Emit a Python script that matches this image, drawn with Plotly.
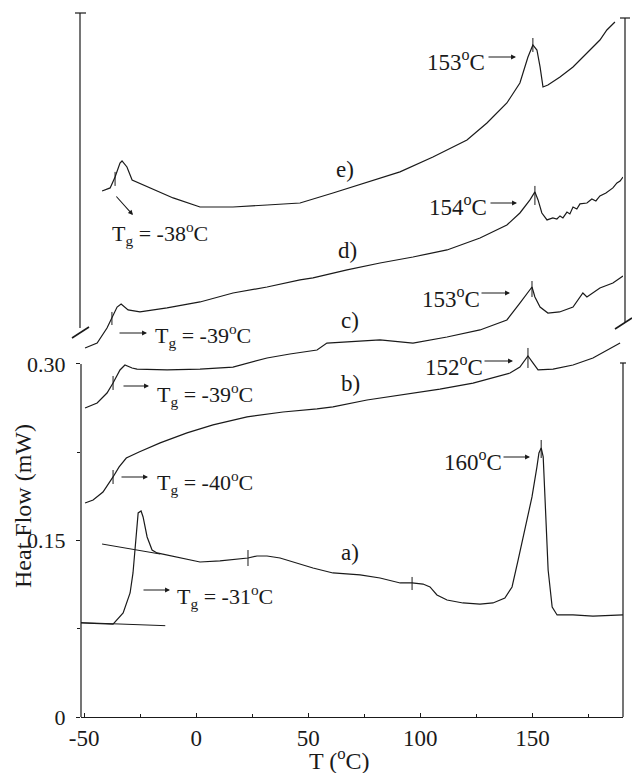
import plotly.graph_objects as go

# ---------------- data (T in degC, heat flow in mW) ----------------
a_T = [-51.4, -42.9, -37.1, -32.6, -29.5, -28.2, -27.3, -26.4, -25.9, -24.6, -23.7, -21.9, -19.7, -17.5,
       -7.2, 1.7, 10.6, 19.5, 23.1, 27.1, 31.6, 37.4, 45.0, 52.1, 61.0, 73.1, 82.0, 91.0, 96.3, 101.2,
       104.3, 107.4, 111.9, 119.0, 126.6, 132.4, 137.7, 140.9, 143.6, 146.7, 149.8, 152.0, 152.9, 153.9,
       154.8, 155.7, 157.0, 158.8, 161.0, 168.1, 177.0, 190.4]
a_Q = [0.0799, 0.0795, 0.0790, 0.0884, 0.1054, 0.1224, 0.1445, 0.1615, 0.1734, 0.1751, 0.1700, 0.1530,
       0.1419, 0.1394, 0.1351, 0.1317, 0.1326, 0.1343, 0.1351, 0.1368, 0.1368, 0.1351, 0.1309, 0.1266,
       0.1224, 0.1207, 0.1181, 0.1139, 0.1139, 0.1130, 0.1105, 0.1037, 0.0994, 0.0969, 0.0960, 0.0969,
       0.1011, 0.1105, 0.1334, 0.1589, 0.1870, 0.2125, 0.2244, 0.2286, 0.2210, 0.1819, 0.1249, 0.0935,
       0.0867, 0.0867, 0.0858, 0.0867]

b_T = [-49.6, -46.0, -41.6, -38.4, -37.1, -34.4, -31.2, -25.5, -16.1, -4.1, 7.5, 22.7, 38.7, 53.9, 61.0,
       76.2, 90.9, 108.7, 123.5, 132.4, 140.0, 144.4, 146.2, 148.0, 150.3, 152.5, 159.2, 168.1, 177.0, 189.1]
b_Q = [0.1819, 0.1844, 0.1912, 0.1997, 0.2040, 0.2125, 0.2201, 0.2252, 0.2329, 0.2414, 0.2482, 0.2550,
       0.2592, 0.2618, 0.2635, 0.2694, 0.2736, 0.2787, 0.2838, 0.2881, 0.2923, 0.2974, 0.3025, 0.3068,
       0.3008, 0.2949, 0.2957, 0.2991, 0.3051, 0.3178]

c_T = [-49.6, -44.2, -39.8, -37.1, -34.0, -31.8, -28.6, -26.4, -13.0, 1.7, 16.4, 31.6, 41.8, 53.9, 58.3,
       67.3, 82.0, 96.7, 111.9, 126.6, 138.6, 144.4, 147.6, 149.8, 151.1, 153.4, 156.9, 162.1, 168.1,
       172.5, 174.3, 180.1, 185.9, 190.4]
c_Q = [0.2626, 0.2668, 0.2753, 0.2838, 0.2949, 0.2991, 0.2966, 0.2957, 0.2949, 0.2957, 0.2974, 0.3051,
       0.3085, 0.3119, 0.3178, 0.3187, 0.3204, 0.3178, 0.3229, 0.3289, 0.3374, 0.3518, 0.3603, 0.3654,
       0.3569, 0.3484, 0.3433, 0.3442, 0.3484, 0.3603, 0.3569, 0.3646, 0.3688, 0.3748]

d_T = [-49.6, -44.2, -39.8, -37.6, -35.3, -33.5, -30.4, -25.1, -13.0, 1.7, 16.4, 31.6, 46.3, 52.1, 67.3,
       82.0, 96.7, 111.9, 126.6, 138.6, 144.4, 148.9, 151.1, 152.5, 154.2, 156.5, 159.1, 160.9, 162.3,
       163.6, 165.4, 166.7, 168.1, 169.8, 171.2, 174.3, 176.5, 178.3, 180.1, 182.8, 184.6, 185.9, 187.7,
       189.1, 190.4]
d_Q = [0.3136, 0.3178, 0.3306, 0.3399, 0.3484, 0.3510, 0.3459, 0.3442, 0.3476, 0.3527, 0.3603, 0.3654,
       0.3714, 0.3731, 0.3799, 0.3858, 0.3909, 0.3969, 0.4071, 0.4181, 0.4283, 0.4394, 0.4462, 0.4394,
       0.4283, 0.4224, 0.4241, 0.4232, 0.4258, 0.4241, 0.4291, 0.4275, 0.4334, 0.4317, 0.4360, 0.4368,
       0.4402, 0.4385, 0.4428, 0.4453, 0.4479, 0.4496, 0.4538, 0.4555, 0.4589]

e_T = [-42.0, -38.4, -36.2, -34.0, -33.1, -30.9, -28.6, -20.6, -10.3, 1.7, 16.4, 31.6, 46.3, 61.0, 76.2,
       90.9, 105.6, 120.8, 129.7, 138.6, 144.4, 148.0, 150.2, 152.0, 153.4, 154.7, 156.9, 162.3, 168.1,
       174.3, 180.1, 183.2, 186.8]
e_Q = [0.4470, 0.4496, 0.4589, 0.4708, 0.4725, 0.4674, 0.4564, 0.4496, 0.4411, 0.4334, 0.4334, 0.4351,
       0.4368, 0.4453, 0.4547, 0.4632, 0.4759, 0.4904, 0.5048, 0.5218, 0.5388, 0.5609, 0.5711, 0.5668,
       0.5524, 0.5354, 0.5371, 0.5439, 0.5524, 0.5643, 0.5753, 0.5838, 0.5906]

# tangent (baseline) construction lines on curve a
tan1_T = [-51.4, -13.8]
tan1_Q = [0.0802, 0.0776]
tan2_T = [-42.0, -16.1]
tan2_Q = [0.1470, 0.1385]

# short vertical marker ticks on curves
mark_T = [-36.2, 150.2, -37.6, 151.1, -37.1, 149.8, -37.1, 148.0, 23.1, 96.3, 153.9]
mark_lo = [0.4513, 0.5651, 0.3331, 0.4351, 0.2779, 0.3569, 0.1980, 0.2966, 0.1283, 0.1079, 0.2201]
mark_hi = [0.4632, 0.5770, 0.3442, 0.4513, 0.2898, 0.3705, 0.2099, 0.3136, 0.1419, 0.1190, 0.2354]

x_tickvals = [-50, 0, 50, 100, 150]
x_ticktext = ["-50", "0", "50", "100", "150"]
x_minor = [-25, 25, 75, 125, 175]
y_tickvals = [0, 0.15, 0.30]
y_ticktext = ["0", "0.15", "0.30"]
y_minor = [0.075, 0.225]

# ---------------- layout helpers ----------------
W, H = 632, 773
L, R, TOP, B = 81, 9, 0, 56
PW = W - L - R
PH = H - TOP - B


def px(x):
    return (x - L) / PW


def py(y):
    return (H - B - y) / PH


FONT = "Liberation Serif, Times New Roman, serif"
INK = "#1a1a1a"

fig = go.Figure()
for T, Q in [(a_T, a_Q), (b_T, b_Q), (c_T, c_Q), (d_T, d_Q), (e_T, e_Q)]:
    fig.add_trace(go.Scatter(x=T, y=Q, mode="lines", line=dict(color=INK, width=1.2),
                             hoverinfo="skip", showlegend=False))
for T, Q in [(tan1_T, tan1_Q), (tan2_T, tan2_Q)]:
    fig.add_trace(go.Scatter(x=T, y=Q, mode="lines", line=dict(color=INK, width=1.0),
                             hoverinfo="skip", showlegend=False))
mx, my = [], []
for t, lo, hi in zip(mark_T, mark_lo, mark_hi):
    mx += [t, t, None]
    my += [lo, hi, None]
fig.add_trace(go.Scatter(x=mx, y=my, mode="lines", line=dict(color=INK, width=1.0),
                         hoverinfo="skip", showlegend=False))

# axis frame pieces (with the scale break)
shapes = []


def seg(x0, y0, x1, y1, w=1.2):
    shapes.append(dict(type="line", xref="paper", yref="paper", x0=px(x0), y0=py(y0),
                       x1=px(x1), y1=py(y1), line=dict(color=INK, width=w)))


seg(81, 364, 81, 717)          # lower left spine
seg(623, 363, 623, 717)        # lower right spine
seg(620, 363, 626, 363)
seg(80, 13, 80, 328)           # upper left bracket
seg(75, 13, 86, 13)
seg(72, 338, 89, 327, 1.6)
seg(625, 18, 625, 323)         # upper right bracket
seg(620, 18, 630, 18)
seg(615, 329, 632, 318, 1.6)

ann = []


def text(x, y, s, size=23, anchor="left"):
    ann.append(dict(x=px(x), y=py(y), xref="paper", yref="paper", xanchor=anchor, yanchor="middle",
                    text=s, showarrow=False, font=dict(family=FONT, size=size, color=INK)))


def arrow(x0, y0, x1, y1):
    ann.append(dict(x=px(x1), y=py(y1), xref="paper", yref="paper", ax=x0 - x1, ay=y0 - y1,
                    text="", showarrow=True, arrowhead=2, arrowsize=0.9, arrowwidth=1.1,
                    arrowcolor=INK))


deg = "<sup>o</sup>C"
text(425, 60, "153" + deg)
arrow(487, 57, 516, 57)
text(427, 205, "154" + deg)
arrow(489, 203, 517, 203)
text(420, 297, "153" + deg)
arrow(480, 293, 510, 293)
text(423, 365, "152" + deg)
arrow(483, 361, 513, 361)
text(442, 460, "160" + deg)
arrow(502, 457, 530, 457)

text(345, 170, "e)", anchor="center")
text(347, 250, "d)", anchor="center")
text(350, 320, "c)", anchor="center")
text(350, 383, "b)", anchor="center")
text(350, 552, "a)", anchor="center")

tg = "T<sub>g</sub> = "
text(110, 234, tg + "-38" + deg, size=22)
arrow(115, 195, 133, 215)
text(153, 335, tg + "-39" + deg, size=22)
arrow(118, 333, 147, 333)
text(155, 394, tg + "-39" + deg, size=22)
arrow(122, 386, 149, 386)
text(155, 483, tg + "-40" + deg, size=22)
arrow(120, 477, 148, 477)
text(175, 596, tg + "-31" + deg, size=22)
arrow(142, 590, 170, 590)

text(339, 759, "T (" + deg + ")", size=24, anchor="center")
ann.append(dict(x=px(23), y=py(506), xref="paper", yref="paper", xanchor="center", yanchor="middle",
                text="Heat Flow (mW)", textangle=-90, showarrow=False,
                font=dict(family=FONT, size=24, color=INK)))

fig.update_layout(
    width=W, height=H,
    margin=dict(l=L, r=R, t=TOP, b=B, pad=0),
    paper_bgcolor="white", plot_bgcolor="white",
    font=dict(family=FONT, size=22, color=INK),
    shapes=shapes, annotations=ann,
    xaxis=dict(range=[-51.4, 190.4], showline=True, linecolor=INK, linewidth=1.2,
               ticks="inside", ticklen=4, tickwidth=1, tickcolor=INK,
               tickvals=x_tickvals, ticktext=x_ticktext,
               minor=dict(ticks="inside", ticklen=3, tickcolor=INK, tickvals=x_minor),
               showgrid=False, zeroline=False, tickfont=dict(family=FONT, size=23, color=INK)),
    yaxis=dict(range=[0, 0.6093], showline=False, ticks="outside", ticklen=4, tickwidth=1,
               tickcolor=INK, tickvals=y_tickvals, ticktext=y_ticktext,
               minor=dict(ticks="outside", ticklen=3, tickcolor=INK, tickvals=y_minor),
               showgrid=False, zeroline=False, tickfont=dict(family=FONT, size=22, color=INK),
               ticklabelstandoff=6),
)

fig.write_html("out.html")
